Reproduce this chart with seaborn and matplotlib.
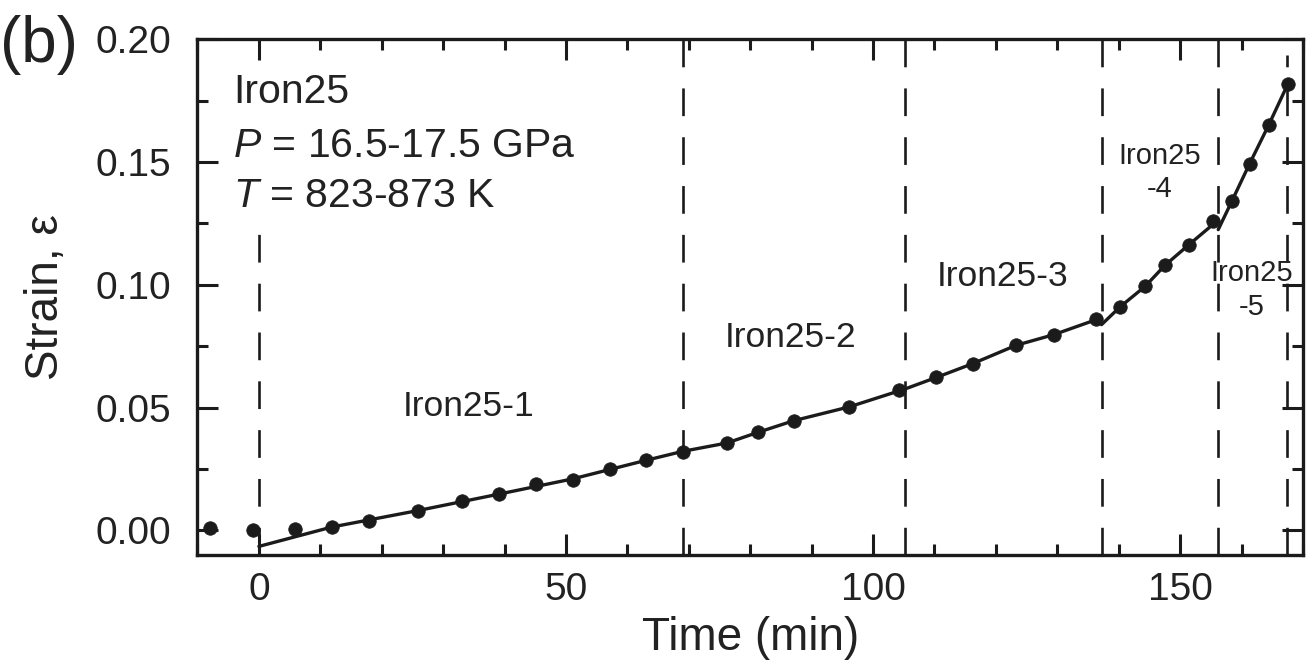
import numpy as np
import pandas as pd
import matplotlib
matplotlib.use("Agg")
import matplotlib.pyplot as plt
import seaborn as sns
from matplotlib.ticker import MultipleLocator

# ---------------- data ----------------
time_min = [-8.0, -1.0, 5.9, 11.9, 17.9, 25.9, 33.0, 39.1, 45.1, 51.1, 57.2,
            63.1, 69.0, 76.2, 81.2, 87.1, 96.1, 104.3, 110.3, 116.2, 123.3,
            129.4, 136.3, 140.2, 144.3, 147.5, 151.4, 155.3, 158.4, 161.3,
            164.4, 167.5]
strain = [0.0010, 0.0003, 0.0006, 0.0014, 0.0037, 0.0081, 0.0118, 0.0148,
          0.0189, 0.0207, 0.0251, 0.0286, 0.0320, 0.0356, 0.0399, 0.0447,
          0.0503, 0.0571, 0.0623, 0.0679, 0.0754, 0.0797, 0.0861, 0.0910,
          0.0994, 0.1079, 0.1163, 0.1259, 0.1340, 0.1493, 0.1650, 0.1816]

# fitted curves for each run segment
fit1_t = [0.0, 11.9, 25.9, 39.1, 51.1, 63.1, 69.0]
fit1_e = [-0.0065, 0.0014, 0.0081, 0.0148, 0.0210, 0.0286, 0.0322]
fit2_t = [69.0, 76.2, 81.2, 87.1, 96.1, 105.2]
fit2_e = [0.0322, 0.0356, 0.0399, 0.0447, 0.0503, 0.0576]
fit3_t = [105.2, 110.3, 116.2, 123.3, 129.4, 137.2]
fit3_e = [0.0576, 0.0623, 0.0679, 0.0754, 0.0797, 0.0866]
fit4_t = [137.2, 140.2, 144.3, 147.5, 151.4, 156.2]
fit4_e = [0.0838, 0.0910, 0.0994, 0.1079, 0.1163, 0.1264]
fit5_t = [156.2, 158.4, 161.3, 164.4, 167.5]
fit5_e = [0.1225, 0.1340, 0.1493, 0.1650, 0.1816]

boundaries = [0.0, 69.0, 105.2, 137.2, 156.2, 167.4]
boundary_top = [0.6215, 1.0, 1.0, 1.0, 1.0, 0.97]

seg_labels = ["Iron25-1", "Iron25-2", "Iron25-3", "Iron25\n-4", "Iron25\n-5"]
seg_label_x = [34.2, 86.5, 121.1, 146.7, 161.7]
seg_label_y = [0.0503, 0.0784, 0.1033, 0.1458, 0.0980]

info_lines = ["Iron25", r"$\mathit{P}$ = 16.5-17.5 GPa", r"$\mathit{T}$ = 823-873 K"]
info_y = [0.1741, 0.1521, 0.1317]

# ---------------- style ----------------
sns.set_theme(style="ticks")
plt.rcParams["font.family"] = ["Liberation Sans", "DejaVu Sans"]
plt.rcParams["mathtext.fontset"] = "custom"
plt.rcParams["mathtext.it"] = "Liberation Sans:italic"
plt.rcParams["mathtext.rm"] = "Liberation Sans"

ink = "#1b1b1b"
txt = "#222222"

fig = plt.figure(figsize=(13.06, 6.69), dpi=100)
ax = fig.add_axes([0.1512, 0.1704, 0.8465, 0.7709])

df_pts = pd.DataFrame({"t": time_min, "e": strain})

for ft, fe in [(fit1_t, fit1_e), (fit2_t, fit2_e), (fit3_t, fit3_e),
               (fit4_t, fit4_e), (fit5_t, fit5_e)]:
    sns.lineplot(x=ft, y=fe, ax=ax, color=ink, lw=2.4, sort=False,
                 estimator=None, zorder=3)

sns.scatterplot(data=df_pts, x="t", y="e", ax=ax, color=ink, s=95,
                edgecolor=ink, linewidth=0.5, zorder=4, clip_on=False)

for b, top in zip(boundaries, boundary_top):
    ax.axvline(b, ymin=0, ymax=top, color=ink, lw=1.9, ls=(0, (10.5, 8)),
               zorder=2)

ax.set_xlim(-10, 170)
ax.set_ylim(-0.01, 0.20)

ax.xaxis.set_major_locator(MultipleLocator(50))
ax.xaxis.set_minor_locator(MultipleLocator(10))
ax.yaxis.set_major_locator(MultipleLocator(0.05))
ax.yaxis.set_minor_locator(MultipleLocator(0.025))
ax.yaxis.set_major_formatter(matplotlib.ticker.FormatStrFormatter("%.2f"))

ax.tick_params(which="both", direction="in", top=True, right=True,
               color=ink, width=2.2, labelcolor=txt)
ax.tick_params(which="major", length=15)
ax.tick_params(which="minor", length=8)
ax.tick_params(axis="x", which="major", labelsize=28, pad=12)
ax.tick_params(axis="y", which="major", labelsize=28, pad=19)

for sp in ax.spines.values():
    sp.set_linewidth(2.4)
    sp.set_color(ink)

ax.set_xlabel("Time (min)", fontsize=33, color=txt, labelpad=6)
ax.set_ylabel("Strain, ε", fontsize=33, color=txt, labelpad=20)

for lab, lx, ly in zip(seg_labels, seg_label_x, seg_label_y):
    fs = 21 if "\n" in lab else 25.5
    ax.text(lx, ly, lab, ha="center", va="center", fontsize=fs, color=txt,
            linespacing=1.25, zorder=5)

for line, ly in zip(info_lines, info_y):
    ax.text(-4.2, ly, line, ha="left", va="baseline", fontsize=29.5, color=txt)

fig.text(0.0, 0.932, "(b)", ha="left", va="center", fontsize=46, color=txt)

fig.savefig("out.png", dpi=100)
